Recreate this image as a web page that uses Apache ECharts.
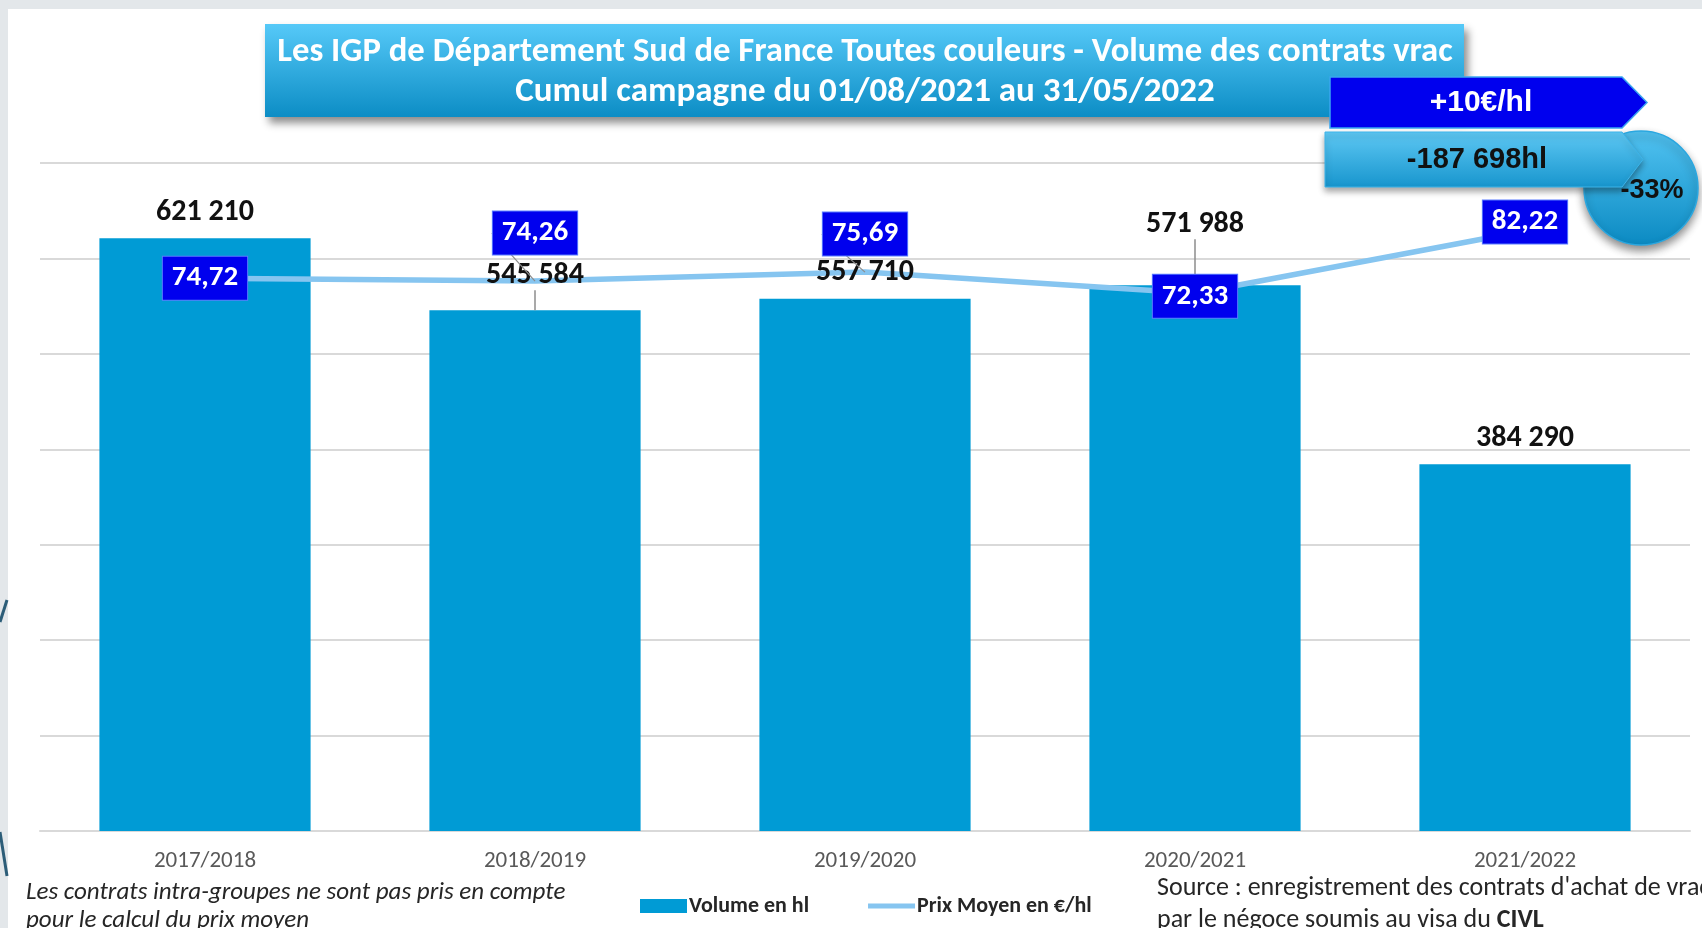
<!DOCTYPE html>
<html>
<head>
<meta charset="utf-8">
<title>IGP Sud de France - volume des contrats vrac</title>
<script src="https://cdn.jsdelivr.net/npm/echarts@6/dist/echarts.min.js"></script>
<style>
  html, body { margin: 0; padding: 0; background: #e3e7ea; }
  #chart { width: 1702px; height: 928px; }
</style>
</head>
<body>
<div id="chart"></div>
<script>
// campagnes
var campagnes = ['2017/2018', '2018/2019', '2019/2020', '2020/2021', '2021/2022']
// volume en hl
var volumes = [621210, 545584, 557710, 571988, 384290]
// prix moyen en €/hl
var prix = [74.72, 74.26, 75.69, 72.33, 82.22]

// déplacement des étiquettes (px), hors données
var volumeLabelShift = [0, -9, 0, -35, 0]
var prixLabelShift = [0, -48, -38, 3, -9]

var FONT = "'Liberation Sans', Arial, sans-serif"
var NARROW = "Carlito, 'Liberation Sans Narrow', 'Liberation Sans', Arial, sans-serif"

function fmtVolume(v) {
  return String(v).replace(/\B(?=(\d{3})+(?!\d))/g, ' ')
}
function fmtPrix(v) {
  return v.toFixed(2).replace('.', ',')
}

var chart = echarts.init(document.getElementById('chart'))

chart.setOption({
  backgroundColor: '#e3e7ea',
  animation: false,
  textStyle: { fontFamily: FONT },
  grid: {
    left: 40,
    right: 12,
    top: 163,
    bottom: 97
  },
  legend: {
    left: 635,
    top: 890,
    itemWidth: 47,
    itemHeight: 14,
    itemGap: 59,
    textStyle: { fontFamily: NARROW, fontSize: 22, fontWeight: 'bold', color: '#262626', padding: [0, 0, 0, -3] },
    data: [
      { name: 'Volume en hl', icon: 'rect' },
      { name: 'Prix Moyen en €/hl', icon: 'path://M0,0 H52 V5.5 H0 Z' }
    ]
  },
  xAxis: {
    type: 'category',
    data: campagnes,
    axisTick: { show: false },
    axisLine: { lineStyle: { color: '#d9d9d9', width: 2 } },
    axisLabel: { color: '#595959', fontSize: 23, margin: 19, fontFamily: NARROW }
  },
  yAxis: [{
    type: 'value',
    min: 0,
    max: 700000,
    interval: 100000,
    axisLabel: { show: false },
    axisLine: { show: false },
    axisTick: { show: false },
    splitLine: { lineStyle: { color: '#d9d9d9', width: 2 } }
  }, {
    type: 'value',
    min: -13,
    max: 93,
    show: false,
    splitLine: { show: false }
  }],
  series: [{
    name: 'Volume en hl',
    type: 'bar',
    data: volumes,
    barWidth: '64%',
    barGap: '-100%',
    itemStyle: { color: '#009bd5' },
    z: 2
  }, {
    name: 'Prix Moyen en €/hl',
    type: 'line',
    yAxisIndex: 1,
    data: prix,
    symbol: 'none',
    itemStyle: { color: '#86c5f0' },
    lineStyle: { color: '#86c5f0', width: 5.5 },
    z: 5
  }, {
    // étiquettes des volumes, au-dessus de la courbe
    name: 'etiquettes volume',
    type: 'bar',
    data: volumes.map(function(v, i) {
      return { value: v, labelLine: { show: volumeLabelShift[i] !== 0 } }
    }),
    barWidth: '64%',
    barGap: '-100%',
    silent: true,
    itemStyle: { color: 'rgba(0,0,0,0)' },
    label: {
      show: true,
      position: 'top',
      distance: 11,
      fontSize: 30,
      fontWeight: 'bold',
      fontFamily: NARROW,
      color: '#111',
      formatter: function(p) { return fmtVolume(p.value) }
    },
    labelLine: {
      show: false,
      lineStyle: { color: '#8c8c8c', width: 1.5 }
    },
    labelLayout: function(p) {
      return { dy: volumeLabelShift[p.dataIndex] }
    },
    z: 6
  }, {
    // étiquettes des prix
    name: 'etiquettes prix',
    type: 'scatter',
    yAxisIndex: 1,
    data: prix.map(function(v, i) {
      return { value: v, labelLine: { show: prixLabelShift[i] < -20 } }
    }),
    symbolSize: 0,
    silent: true,
    itemStyle: { opacity: 1, color: '#0000ee' },
    label: {
      show: true,
      position: 'inside',
      fontSize: 29,
      fontWeight: 'bold',
      fontFamily: NARROW,
      color: '#fff',
      backgroundColor: '#0000ee',
      borderColor: '#5a7cff',
      borderWidth: 1,
      padding: [8, 9, 6, 9],
      formatter: function(p) { return fmtPrix(p.value) }
    },
    labelLine: {
      show: false,
      lineStyle: { color: '#8c8c8c', width: 1.2, opacity: 1 }
    },
    labelLayout: function(p) {
      return { dy: prixLabelShift[p.dataIndex] }
    },
    z: 7
  }],
  graphic: [
    // cadre blanc de la diapo
    { type: 'rect', z: -10, silent: true, shape: { x: 8, y: 9, width: 1694, height: 919 }, style: { fill: '#ffffff' } },
    { type: 'polyline', z: -9, shape: { points: [[0, 622], [7, 600]] }, style: { stroke: '#2c5d78', lineWidth: 3 } },
    { type: 'polyline', z: -9, shape: { points: [[0, 832], [7, 876]] }, style: { stroke: '#2c5d78', lineWidth: 3 } },
    // titre
    {
      type: 'rect',
      z: 10,
      shape: { x: 265, y: 24, width: 1199, height: 93 },
      style: {
        fill: new echarts.graphic.LinearGradient(0, 0, 0, 1, [
          { offset: 0, color: '#56c9f8' },
          { offset: 1, color: '#0c8dc5' }
        ]),
        shadowBlur: 8,
        shadowOffsetX: 4,
        shadowOffsetY: 6,
        shadowColor: 'rgba(0,0,0,0.45)'
      }
    },
    {
      type: 'text', z: 11, x: 865, y: 52,
      style: {
        text: 'Les IGP de Département Sud de France Toutes couleurs - Volume des contrats vrac',
        fill: '#fff', font: 'bold 34.7px ' + NARROW, align: 'center', verticalAlign: 'middle'
      }
    },
    {
      type: 'text', z: 11, x: 865, y: 92,
      style: {
        text: 'Cumul campagne du 01/08/2021 au 31/05/2022',
        fill: '#fff', font: 'bold 35px ' + NARROW, align: 'center', verticalAlign: 'middle'
      }
    },
    // cercle -33%
    {
      type: 'circle',
      z: 11,
      shape: { cx: 1641, cy: 188, r: 57 },
      style: {
        fill: new echarts.graphic.LinearGradient(0, 0, 0, 1, [
          { offset: 0, color: '#52c3f2' },
          { offset: 1, color: '#0b8ac2' }
        ]),
        stroke: '#2aa7e0', lineWidth: 1.5,
        shadowBlur: 8, shadowOffsetY: 5, shadowColor: 'rgba(0,0,0,0.45)'
      }
    },
    // flèche +10€/hl
    {
      type: 'polygon',
      z: 12,
      shape: { points: [[1330, 77], [1622, 77], [1647, 102.5], [1622, 128], [1330, 128]] },
      style: { fill: '#0000ee', stroke: '#3aa6f0', lineWidth: 1.5 }
    },
    {
      type: 'text', z: 13, x: 1481, y: 103,
      style: { text: '+10€/hl', fill: '#fff', font: 'bold 30px ' + FONT, align: 'center', verticalAlign: 'middle' }
    },
    // flèche -187 698hl
    {
      type: 'polygon',
      z: 12,
      shape: { points: [[1325, 132], [1622, 132], [1643, 159.5], [1622, 187], [1325, 187]] },
      style: {
        fill: new echarts.graphic.LinearGradient(0, 0, 0, 1, [
          { offset: 0, color: '#5ec8f4' },
          { offset: 1, color: '#1795cd' }
        ]),
        stroke: '#3cb4ea', lineWidth: 1,
        shadowBlur: 6, shadowOffsetY: 4, shadowColor: 'rgba(0,0,0,0.35)'
      }
    },
    {
      type: 'text', z: 13, x: 1477, y: 160,
      style: { text: '-187 698hl', fill: '#111', font: 'bold 29px ' + FONT, align: 'center', verticalAlign: 'middle' }
    },
    {
      type: 'text', z: 14, x: 1652, y: 191,
      style: { text: '-33%', fill: '#111', font: 'bold 27px ' + FONT, align: 'center', verticalAlign: 'middle' }
    },
    // notes de bas de page
    {
      type: 'text', z: 5, x: 26, y: 893,
      style: { text: 'Les contrats intra-groupes ne sont pas pris en compte', fill: '#262626', font: 'italic 25px ' + NARROW, verticalAlign: 'middle' }
    },
    {
      type: 'text', z: 5, x: 26, y: 921,
      style: { text: 'pour le calcul du prix moyen', fill: '#262626', font: 'italic 25px ' + NARROW, verticalAlign: 'middle' }
    },
    {
      type: 'text', z: 5, x: 1157, y: 888,
      style: { text: "Source : enregistrement des contrats d'achat de vrac", fill: '#262626', font: '26px ' + NARROW, verticalAlign: 'middle' }
    },
    {
      type: 'text', z: 5, x: 1157, y: 920,
      style: {
        text: '{n|par le négoce soumis au visa du }{b|CIVL}',
        verticalAlign: 'middle',
        rich: {
          n: { fill: '#262626', font: '26px ' + NARROW },
          b: { fill: '#262626', font: 'bold 26px ' + NARROW }
        }
      }
    }
  ]
})
</script>
</body>
</html>
